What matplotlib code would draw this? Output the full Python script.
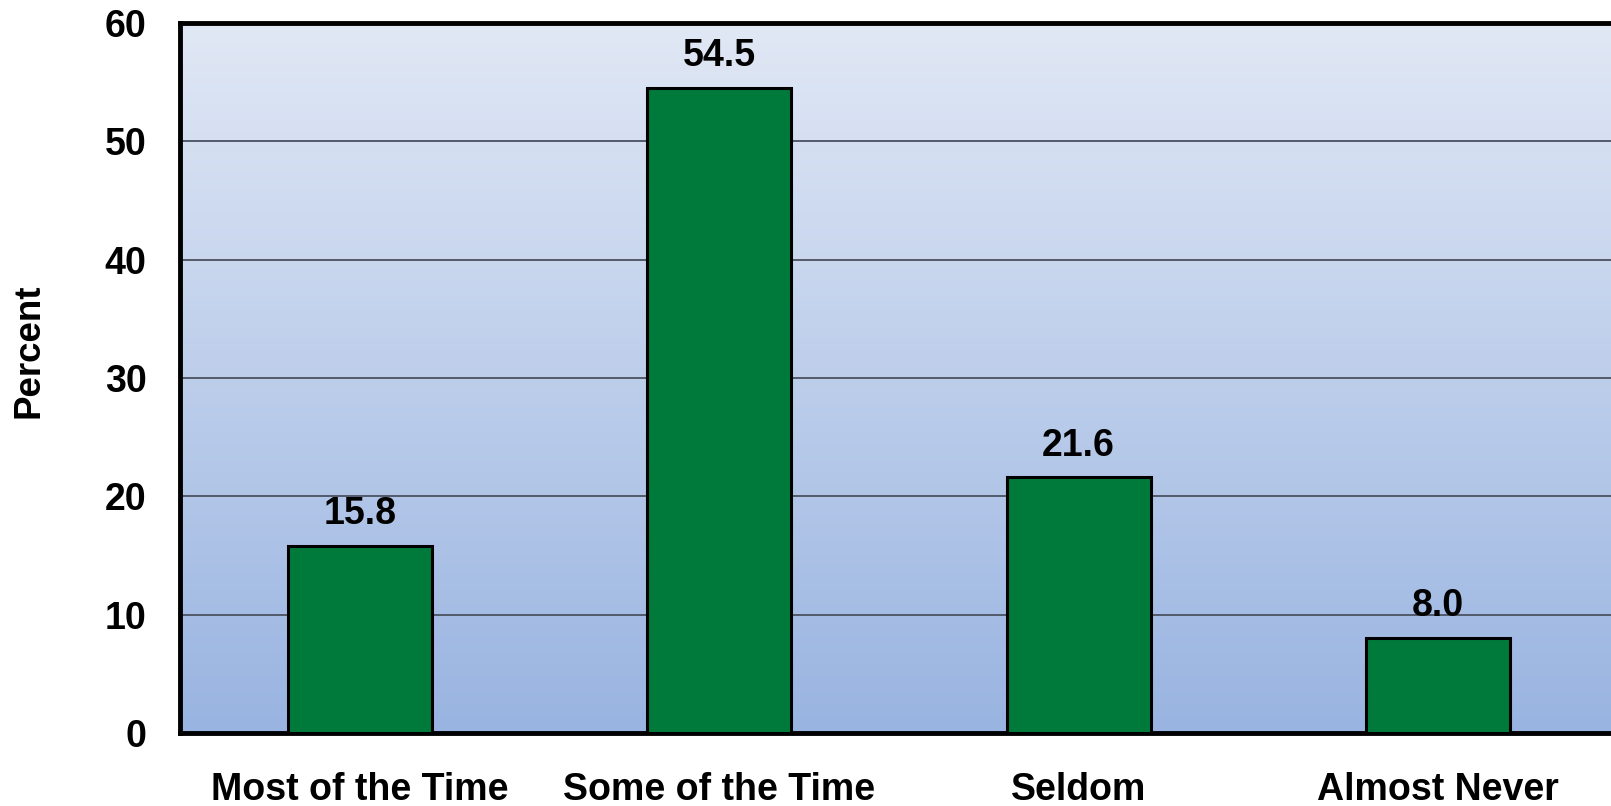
import matplotlib.pyplot as plt
import numpy as np
from matplotlib.colors import LinearSegmentedColormap

categories = ["Most of the Time", "Some of the Time", "Seldom", "Almost Never"]
percent = [15.8, 54.5, 21.6, 8.0]
yticks = [0, 10, 20, 30, 40, 50, 60]


def main():
    plt.rcParams['font.family'] = ['Liberation Sans', 'DejaVu Sans']
    plt.rcParams['font.weight'] = 'bold'

    fig = plt.figure(figsize=(16.11, 8.06), dpi=100)
    ax = fig.add_axes([0.1117, 0.0905, 0.8926, 0.881])

    x = np.arange(len(categories))

    # gradient background, light at top, darker blue at bottom
    grad = LinearSegmentedColormap.from_list("bg", ["#99b4e1", "#e1e8f5"])
    ax.imshow(np.linspace(0, 1, 256).reshape(-1, 1), cmap=grad, aspect='auto',
              extent=[0, 1, 0, 1], origin='lower', transform=ax.transAxes, zorder=0)

    ax.set_xlim(-0.5, len(categories) - 0.5)
    ax.set_ylim(0, 60)
    ax.set_yticks(yticks)
    ax.yaxis.grid(True, color='#4a5260', linewidth=1.3)
    ax.set_axisbelow(True)

    bars = ax.bar(x, percent, width=0.4, color='#007a3a', edgecolor='black',
                  linewidth=2.2, zorder=3)
    for b, v in zip(bars, percent):
        ax.annotate("%.1f" % v, (b.get_x() + b.get_width() / 2, v),
                    xytext=(0, 10), textcoords='offset points', ha='center',
                    va='bottom', fontsize=27, fontweight='bold')

    ax.set_xticks(x)
    ax.set_xticklabels(categories, fontsize=27, fontweight='bold')
    ax.tick_params(axis='x', length=0, pad=28)
    ax.tick_params(axis='y', length=0, pad=24, labelsize=27)
    ax.set_ylabel("Percent", fontsize=26.5, fontweight='bold')
    ax.yaxis.set_label_coords(-0.093, 0.538)

    for s in ['left', 'bottom', 'top']:
        ax.spines[s].set_linewidth(3.5)
        ax.spines[s].set_color('black')
    ax.spines['right'].set_visible(False)

    fig.savefig("out.png", dpi=100)


if __name__ == "__main__":
    main()
